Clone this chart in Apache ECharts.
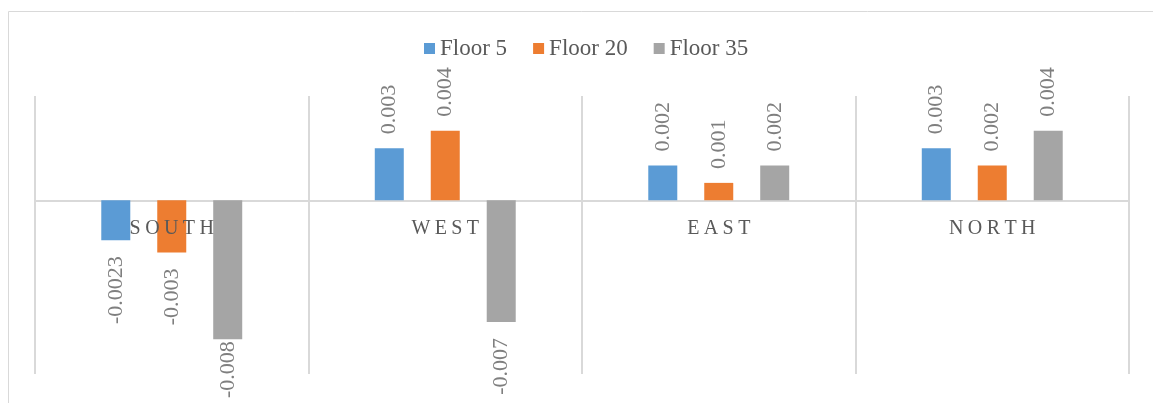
<!DOCTYPE html>
<html>
<head>
<meta charset="utf-8">
<script src="https://cdn.jsdelivr.net/npm/echarts@6/dist/echarts.min.js"></script>
<style>html,body{margin:0;padding:0;background:#fff;}#c{width:1153px;height:403px;}</style>
</head>
<body>
<div id="c"></div>
<script>
const categories = ['SOUTH', 'WEST', 'EAST', 'NORTH'];
const seriesNames = ['Floor 5', 'Floor 20', 'Floor 35'];
const floor5 = [-0.0023, 0.003, 0.002, 0.003];
const floor20 = [-0.003, 0.004, 0.001, 0.002];
const floor35 = [-0.008, -0.007, 0.002, 0.004];
const colors = ['#5b9bd5', '#ed7d31', '#a5a5a5'];

const serif = '"Liberation Serif", "Times New Roman", serif';
const labelFontSize = 22;
const chart = echarts.init(document.getElementById('c'), null, {renderer: 'canvas'});

const measureCtx = document.createElement('canvas').getContext('2d');
measureCtx.font = labelFontSize + 'px ' + serif;

function makeSeries(name, values, color, negDist) {
  return {
    name: name,
    type: 'bar',
    xAxisIndex: 0,
    barWidth: 29,
    barGap: '93%',
    itemStyle: {color: color},
    label: {
      show: true,
      rotate: 90,
      fontFamily: serif,
      fontSize: labelFontSize,
      color: '#7f7f7f',
      formatter: function (p) { return String(p.value); }
    },
    data: values.map(function (v, i) {
      return v >= 0
        ? {value: v, label: {position: 'top', align: 'left', verticalAlign: 'middle', distance: 14}}
        : {value: v, label: {position: 'bottom', align: 'right', verticalAlign: 'middle', distance: negDist ? negDist[i] : 16}};
    })
  };
}

const gridBottom = 29;
function buildSeries(dists) {
  return [
    makeSeries(seriesNames[0], floor5, colors[0], dists && dists[0]),
    makeSeries(seriesNames[1], floor20, colors[1], dists && dists[1]),
    makeSeries(seriesNames[2], floor35, colors[2], dists && dists[2])
  ];
}
const option = {
  animation: false,
  color: colors,
  graphic: [{
    type: 'rect',
    left: 6, top: 9,
    shape: {width: 1300, height: 600},
    style: {fill: 'none', stroke: '#d9d9d9', lineWidth: 1},
    silent: true, z: -10
  }],
  legend: {
    top: 32,
    left: 419,
    icon: 'rect',
    itemWidth: 11,
    itemHeight: 11,
    itemGap: 26,
    textStyle: {fontFamily: serif, fontSize: 23, color: '#595959'},
    data: seriesNames
  },
  grid: {left: 35, right: 24, top: 96, bottom: gridBottom, containLabel: false, outerBoundsMode: 'none'},
  xAxis: [{
    type: 'category',
    data: categories,
    z: 1,
    axisLine: {show: true, onZero: true, lineStyle: {color: '#d9d9d9', width: 2}},
    axisTick: {show: false},
    axisLabel: {show: false},
    splitLine: {show: true, lineStyle: {color: '#d9d9d9', width: 2}}
  }, {
    type: 'category',
    data: categories,
    position: 'bottom',
    offset: 0,
    zlevel: 1,
    z: 10,
    axisLine: {show: false, onZero: false},
    axisTick: {show: false},
    splitLine: {show: false},
    axisLabel: {
      margin: 18,
      formatter: function (v) {
        return v.split('').map(function (ch) { return '{c|' + ch + '}'; }).join('');
      },
      rich: {
        c: {fontFamily: serif, fontSize: 20, color: '#595959', padding: [0, 2.2, 0, 2.2]}
      }
    }
  }],
  yAxis: {
    type: 'value',
    min: -0.01,
    max: 0.006,
    show: false,
    splitLine: {show: false}
  },
  series: buildSeries(null)
};
chart.setOption(option);

// move the labelled axis up so that it sits on the zero value
const zeroY = chart.convertToPixel({yAxisIndex: 0}, 0);
const bottomY = chart.getHeight() - gridBottom;
// keep negative value labels inside the chart, as the original does
const limit = chart.getHeight() - 8;
const dists = [floor5, floor20, floor35].map(function (vals) {
  return vals.map(function (v) {
    if (v >= 0) return 14;
    const end = chart.convertToPixel({yAxisIndex: 0}, v);
    const len = measureCtx.measureText(String(v)).width;
    return Math.max(2, Math.min(16, limit - end - len));
  });
});
chart.setOption({
  xAxis: [{}, {offset: -(bottomY - zeroY)}],
  series: buildSeries(dists)
});
</script>
</body>
</html>
